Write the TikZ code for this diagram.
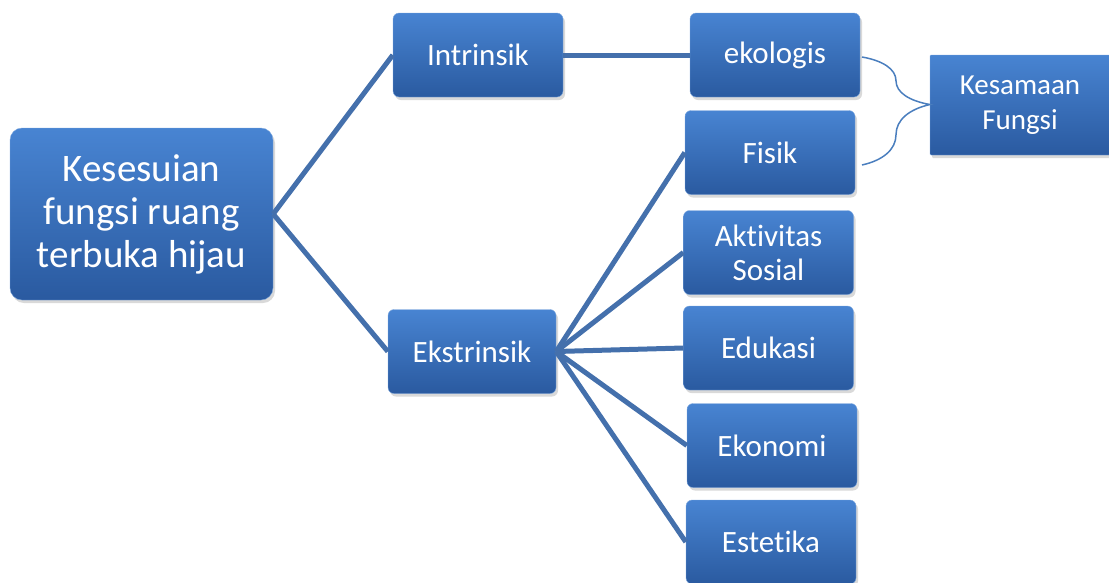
\documentclass[tikz,border=0pt]{standalone}
\usepackage{fontspec}
\setmainfont{Carlito}[Ligatures=NoCommon]
\usetikzlibrary{shapes,arrows.meta,positioning,shadows,decorations.pathreplacing}
\definecolor{boxtop}{RGB}{72,132,210}
\definecolor{boxbot}{RGB}{42,90,160}
\definecolor{linkcol}{RGB}{68,112,172}
\definecolor{bracecol}{RGB}{74,126,190}

\begin{document}
\begin{tikzpicture}[x=1pt, y=-1pt,
		block/.style={rounded corners=6pt, top color=boxtop, bottom color=boxbot, draw=boxtop!70!white,
			text=white, align=center, inner sep=0pt, minimum height=84pt, minimum width=170pt,
			font=\fontsize{31}{34}\selectfont,
			drop shadow={opacity=0.3, shadow xshift=2pt, shadow yshift=-3pt}},
		link/.style={draw=linkcol, line width=5pt}
	]
		\useasboundingbox (0,0) rectangle (1109,582);

		\node[block, minimum width=263pt, minimum height=172pt, rounded corners=12pt,
			font=\fontsize{39}{43}\selectfont] (ksf) at (141.5,214) {Kesesuian\\fungsi ruang\\terbuka hijau};
		\node[block] (intr) at (478,55) {Intrinsik};
		\node[block, minimum width=168pt] (ekstr) at (472,351.5) {Ekstrinsik};

		\node[block] (ekol) at (775,55) {ekologis};
		\node[block] (fisik) at (770,152.5) {Fisik};
		\node[block] (sosial) at (768.5,252.5) {Aktivitas\\Sosial};
		\node[block] (edu) at (768.5,348) {Edukasi};
		\node[block] (ekon) at (772,445.5) {Ekonomi};
		\node[block] (estet) at (771,542) {Estetika};

		\node[block, rounded corners=1pt, minimum width=180pt, minimum height=100pt,
			font=\fontsize{29}{35}\selectfont] (sama) at (1020,105) {Kesamaan\\Fungsi};

		\draw[link] (ksf.east) -- (intr.west);
		\draw[link] (ksf.east) -- (ekstr.west);
		\draw[link] (intr.east) -- (ekol.west);
		\foreach \n in {fisik, sosial, edu, ekon, estet}
			\draw[link] (ekstr.east) -- (\n.west);

		% brace to the common function
		\coordinate (brace top) at (862,57);
		\coordinate (brace bot) at (862,165);
		\draw[bracecol, line width=1.5pt, decorate,
			decoration={brace, amplitude=68pt, aspect=0.44}] (brace top) -- (brace bot);
	\end{tikzpicture}
\end{document}
